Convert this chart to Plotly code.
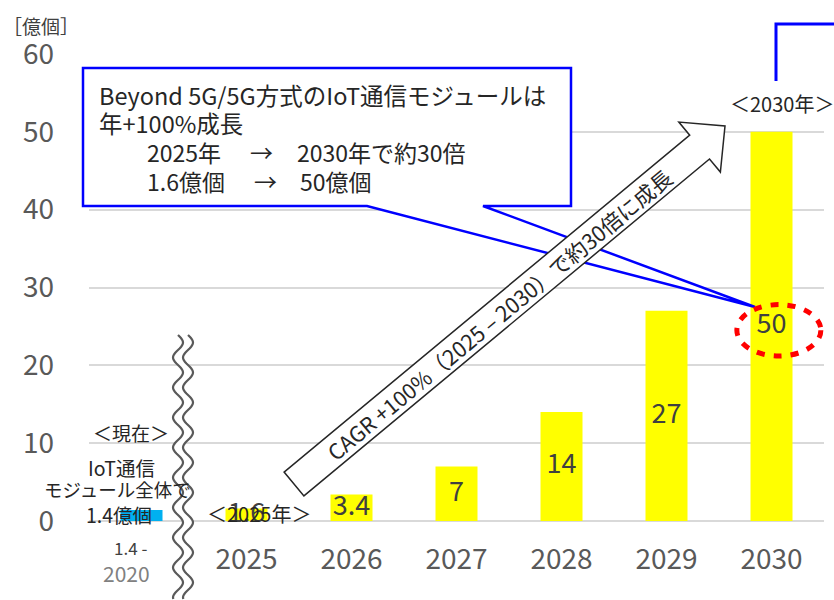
import math
import plotly.graph_objects as go

# Module shipments (units: 億個)
years = ["2020", "2025", "2026", "2027", "2028", "2029", "2030"]
units = [1.4, 1.6, 3.4, 7, 14, 27, 50]
bar_colors = ["#00B0F0"] + ["#FFFF00"] * 6
y_ticks = [0, 10, 20, 30, 40, 50, 60]

JP = "Noto Sans CJK JP"
W, H = 834, 600
ML, MR, MT, MB = 89, 10, 54, 79
PW, PH = W - ML - MR, H - MT - MB


def fx(px):
    return (px - ML) / PW


def fy(py):
    return (H - MB - py) / PH


def poly(points):
    return "M " + " L ".join(f"{fx(x):.5f},{fy(y):.5f}" for x, y in points) + " Z"


def polyline(points):
    return "M " + " L ".join(f"{fx(x):.5f},{fy(y):.5f}" for x, y in points)


fig = go.Figure()
fig.add_trace(go.Bar(
    x=years, y=units, width=0.4,
    marker=dict(color=bar_colors, line=dict(width=0)),
    hoverinfo="skip",
))
# value labels centred on each forecast bar
fig.add_trace(go.Scatter(
    x=years[1:], y=[v / 2 for v in units[1:]],
    text=[f"{v:g}" for v in units[1:]], mode="text",
    textposition="middle center", cliponaxis=False,
    textfont=dict(family=JP, size=27, color="#404040"),
    hoverinfo="skip",
))

shapes = []

# speech-bubble callout pointing at the 2030 value
callout = [(83, 68), (571, 68), (571, 206), (483, 206), (755, 307),
           (367, 206), (83, 206)]
shapes.append(dict(type="path", xref="paper", yref="paper", layer="above",
                   path=poly(callout), fillcolor="white",
                   line=dict(color="#0000FF", width=2.5)))

# block arrow for the growth rate
tail, tip = (294, 484), (725, 126)
dx, dy = tip[0] - tail[0], tip[1] - tail[1]
length = math.hypot(dx, dy)
ux, uy = dx / length, dy / length
nx, ny = -uy, ux
shaft_hw, head_hw, head_len = 15.5, 32.5, 33


def ap(s, t):
    return (tail[0] + s * ux + t * nx, tail[1] + s * uy + t * ny)


base = length - head_len
arrow = [ap(0, -shaft_hw), ap(base, -shaft_hw), ap(base, -head_hw),
         ap(length, 0), ap(base, head_hw), ap(base, shaft_hw), ap(0, shaft_hw)]
shapes.append(dict(type="path", xref="paper", yref="paper", layer="above",
                   path=poly(arrow), fillcolor="white",
                   line=dict(color="#262626", width=1.5)))
arrow_angle = math.degrees(math.atan2(dy, dx))
text_pt = ap(266, 0)

# axis-break wave between 2020 and 2025
xc, amp, period, gap = 183, 5.0, 30.0, 5.0
ys = [335 + k * 1.5 for k in range(int((600 - 335) / 1.5) + 1)]
wave = [xc + amp * math.sin(2 * math.pi * (y - 335) / period) for y in ys]
left = [(x - gap, y) for x, y in zip(wave, ys)]
right = [(x + gap, y) for x, y in zip(wave, ys)]
shapes.append(dict(type="path", xref="paper", yref="paper", layer="above",
                   path=poly(left + right[::-1]), fillcolor="white",
                   line=dict(width=0)))
for side in (left, right):
    shapes.append(dict(type="path", xref="paper", yref="paper", layer="above",
                       path=polyline(side),
                       line=dict(color="#5a5a5a", width=2.2)))

# dotted ring around the 2030 value label
last = len(years) - 1
mid = units[last] / 2
shapes.append(dict(type="circle", xref="x", yref="y", layer="above",
                   x0=last - 0.33, x1=last + 0.47, y0=mid - 3.8, y1=mid + 2.8,
                   line=dict(color="#FF0000", width=5, dash="8px,9px")))

# corner of the neighbouring frame
shapes.append(dict(type="path", xref="paper", yref="paper", layer="above",
                   path=polyline([(776, 81), (776, 24), (840, 24)]),
                   line=dict(color="#0000FF", width=3)))

annotations = []


def note(text, x, y, size=19, color="#262626", anchor="center", **kw):
    annotations.append(dict(text=text, xref="paper", yref="paper",
                            x=fx(x), y=fy(y), xanchor=anchor, yanchor="middle",
                            showarrow=False,
                            font=dict(family=JP, size=size, color=color), **kw))


note("［億個］", 41, 26, size=19, color="#404040")

note("Beyond 5G/5G方式のIoT通信モジュールは", 97, 95, size=23.5, anchor="left")
note("年+100%成長", 97, 123, size=23.5, anchor="left")
note("2025年", 145, 152, size=23, anchor="left")
note("→", 248, 152, size=23, anchor="left")
note("2030年で約30倍", 295, 152, size=23, anchor="left")
note("1.6億個", 145, 181, size=23, anchor="left")
note("→", 252, 181, size=23, anchor="left")
note("50億個", 298, 181, size=23, anchor="left")

note("＜2030年＞", 782, 103, size=20)
note("＜2025年＞", 259, 513, size=20)

note("＜現在＞", 131, 432, size=19)
note("IoT通信", 121, 467, size=19.5)
note("モジュール全体で", 117, 489, size=18.5)
note("1.4億個", 119, 514, size=19.5)

note("CAGR +100%（2025 – 2030）で約30倍に成長", text_pt[0], text_pt[1],
     size=21.5, textangle=arrow_angle)

# 2020 reference value and its year label under the break
annotations.append(dict(text=f"{units[0]:g} -", x=0, xref="x",
                        y=fy(547), yref="paper", yanchor="middle",
                        xshift=-11, showarrow=False,
                        font=dict(family=JP, size=17, color="#404040")))
annotations.append(dict(text=years[0], x=0, xref="x",
                        y=fy(573), yref="paper", yanchor="middle",
                        xshift=-15, showarrow=False,
                        font=dict(family=JP, size=21, color="#808080")))

fig.update_layout(
    width=W, height=H,
    margin=dict(l=ML, r=MR, t=MT, b=MB, pad=0),
    paper_bgcolor="white", plot_bgcolor="white",
    showlegend=False,
    shapes=shapes, annotations=annotations,
    xaxis=dict(
        type="category", categoryorder="array", categoryarray=years,
        range=[-0.5, len(years) - 0.5],
        tickvals=years[1:], ticktext=years[1:],
        tickfont=dict(family=JP, size=28, color="#595959"),
        showgrid=False, showline=False, ticks="", ticklabelstandoff=19,
    ),
    yaxis=dict(
        range=[0, 60], tickvals=y_ticks,
        tickfont=dict(family=JP, size=28, color="#595959"),
        showgrid=True, gridcolor="#D9D9D9", gridwidth=1.5,
        zeroline=True, zerolinecolor="#D9D9D9", zerolinewidth=1.5,
        showline=False, ticks="", ticklabelstandoff=34,
    ),
)

fig.write_html("out.html")
